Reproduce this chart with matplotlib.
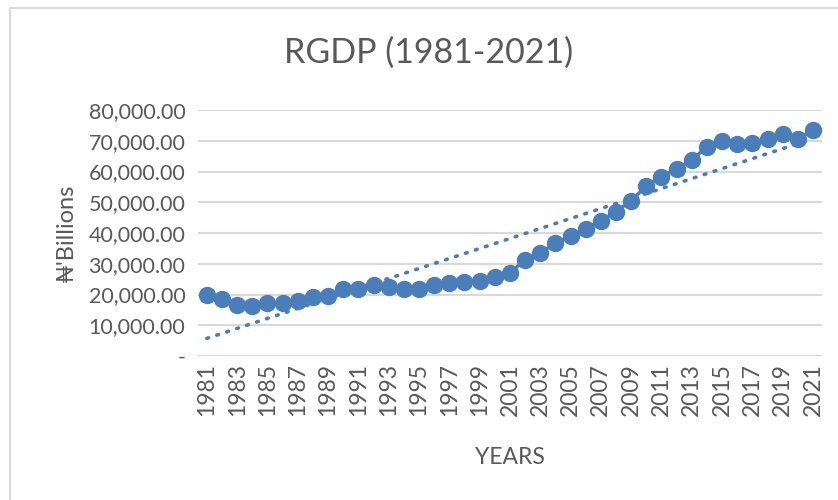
import numpy as np
import matplotlib.pyplot as plt
from matplotlib.patches import Rectangle
from matplotlib.ticker import FuncFormatter

plt.rcParams['font.family'] = ['Lato', 'DejaVu Sans']

years = list(range(1981, 2022))
rgdp = [19840, 18400, 16600, 16260, 17300, 17300, 18000, 19100, 19500, 21700,
        21700, 23000, 22300, 21700, 21700, 23000, 23600, 24200, 24400, 25800,
        27100, 31200, 33600, 36600, 39000, 41200, 44000, 46900, 50500, 55300,
        58300, 60800, 63700, 68100, 69800, 68800, 69400, 70600, 72200, 70500,
        73500]
y_ticks = [0, 10000, 20000, 30000, 40000, 50000, 60000, 70000, 80000]

blue = "#4a7ebb"
grey = "#595959"

fig = plt.figure(figsize=(8.38, 5.0), dpi=100)
ax = fig.add_axes([0.236, 0.288, 0.745, 0.492])

# frame of the chart area
fig.patches.append(Rectangle((10 / 838, -0.1), 1.1, 1 - 8 / 500 + 0.1,
                             transform=fig.transFigure, fill=False,
                             edgecolor="#d9d9d9", linewidth=1.5))

x = np.array(years)
y = np.array(rgdp)
ax.plot(x, y, color=blue, linewidth=2.5, marker="o", markersize=11.5, zorder=3)

# linear trendline
k, b = np.polyfit(x, y, 1)
ax.plot(x, k * x + b, color=blue, linewidth=2.6, linestyle=(0, (0.5, 2.4)),
        dash_capstyle="round", zorder=4)

ax.set_ylim(0, 80000)
ax.set_xlim(1980.4, 2021.6)
ax.set_yticks(y_ticks)
ax.yaxis.set_major_formatter(FuncFormatter(lambda v, p: "-" if v == 0 else f"{v:,.2f}"))
ax.set_xticks(years[::2])
ax.set_xticklabels([str(v) for v in years[::2]], rotation=90)
ax.tick_params(axis="y", length=0, labelsize=15.5, colors=grey, pad=9)
ax.tick_params(axis="x", length=0, labelsize=16.5, colors=grey, pad=5)
ax.grid(axis="y", color="#d9d9d9", linewidth=1.5)
ax.set_axisbelow(True)
for s in ax.spines.values():
    s.set_visible(False)

fig.text(0.511, 0.895, "RGDP (1981-2021)", fontsize=24.5, color=grey,
         ha="center", va="center")
ax.set_xlabel("YEARS", fontsize=16.5, color=grey, labelpad=22)
ax.set_ylabel("₦'Billions", fontsize=17, color=grey, labelpad=8)

fig.savefig("out.png", dpi=100)
